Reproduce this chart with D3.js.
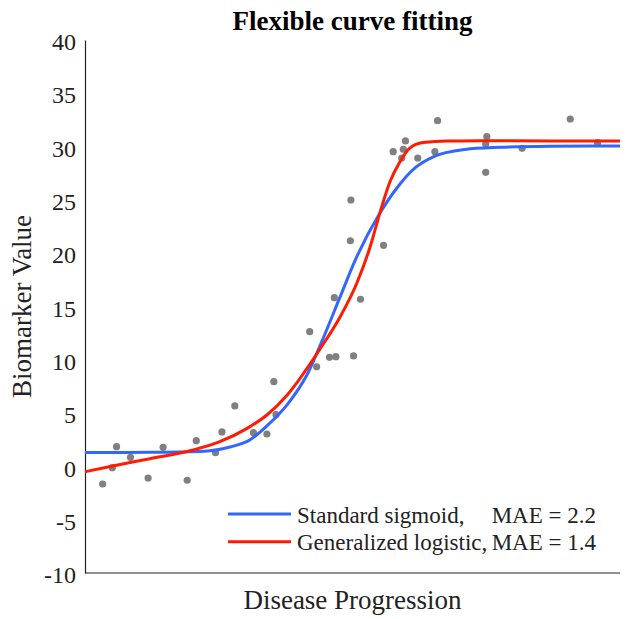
<!DOCTYPE html>
<html>
<head>
<meta charset="utf-8">
<script src="https://cdn.jsdelivr.net/npm/d3@7"></script>
<style>
  body { margin: 0; background: #fff; }
  text { font-family: "Liberation Serif", "Times New Roman", serif; fill: #222; }
</style>
</head>
<body>
<div id="main"></div>
<script>
// observed data (disease progression, biomarker value)
const obsX = [3.3, 5.1, 5.9, 8.5, 11.8, 14.6, 19.1, 20.8, 24.4, 25.6, 28.0, 31.5, 34.0, 35.7, 35.3,
  43.3, 42.0, 45.7, 46.9, 50.2, 46.6, 51.5, 49.6, 49.7, 55.8, 57.6, 59.2, 59.5, 59.9, 62.2,
  65.4, 65.9, 75.1, 74.9, 74.9, 81.7, 90.7, 95.8];
const obsY = [-1.65, -0.12, 1.85, 0.85, -1.09, 1.79, -1.30, 2.41, 1.29, 3.23, 5.67, 3.16, 3.04, 4.85, 7.95,
  9.35, 12.64, 10.23, 10.29, 10.36, 15.83, 15.68, 21.17, 24.99, 20.74, 29.52, 28.93, 29.75, 30.53, 28.93,
  29.52, 32.43, 30.93, 30.24, 27.59, 29.84, 32.59, 30.37];

// fitted curves
const sigX = [0, 12.1, 21.5, 27.1, 30.8, 34.0, 37.8, 41.5, 44.5, 47.7, 50.8, 55.1, 58.3, 61.9, 65.0, 71.0, 77.6, 86.9, 100];
const sigY = [1.30, 1.32, 1.40, 1.82, 2.48, 3.80, 5.80, 8.60, 12.00, 15.92, 19.67, 23.74, 26.12, 28.09, 29.02, 29.73, 29.93, 30.03, 30.06];
const genX = [0, 5.2, 11.6, 20.2, 25.2, 30.3, 34.0, 37.8, 43.9, 47.7, 50.8, 53.3, 55.1, 57.0, 58.9, 60.7, 63.2, 67.7, 73.8, 100];
const genY = [-0.50, 0.04, 0.67, 1.54, 2.32, 3.57, 4.82, 6.70, 11.00, 14.04, 17.18, 20.61, 23.74, 26.70, 28.60, 29.85, 30.38, 30.53, 30.54, 30.53];

const yTicks = [-10, -5, 0, 5, 10, 15, 20, 25, 30, 35, 40];
const series = [
  { name: "Standard sigmoid,", mae: "MAE = 2.2", color: "#3366ff", xs: sigX, ys: sigY },
  { name: "Generalized logistic,", mae: "MAE = 1.4", color: "#ff1a00", xs: genX, ys: genY }
];

const width = 638, height = 619;
const margin = { top: 40, right: 18, bottom: 46, left: 85 };

const svg = d3.select('#main').append('svg')
  .attr('width', width)
  .attr('height', height);

const x = d3.scaleLinear().domain([0, 100]).range([margin.left, width - margin.right]);
const y = d3.scaleLinear().domain([-10, 40]).range([height - margin.bottom, margin.top]);

// axes
const yAxis = svg.append('g')
  .attr('transform', `translate(${margin.left},0)`)
  .call(d3.axisLeft(y).tickValues(yTicks).tickSize(0).tickPadding(9).tickFormat(d => String(d)));
yAxis.select('.domain').attr('stroke', '#222').attr('stroke-width', 1.2);
yAxis.selectAll('text')
  .attr('font-size', 24)
  .attr('font-family', '"Liberation Serif", serif')
  .attr('fill', '#222')
  .attr('dy', '0.4em');

svg.append('line')
  .attr('x1', x(0)).attr('x2', x(100))
  .attr('y1', y(-10)).attr('y2', y(-10))
  .attr('stroke', '#222').attr('stroke-width', 1.2);

// points
svg.append('g').selectAll('circle')
  .data(obsX.map((d, i) => [d, obsY[i]]))
  .enter()
  .append('circle')
  .attr('cx', d => x(d[0]))
  .attr('cy', d => y(d[1]))
  .attr('r', 3.6)
  .attr('fill', '#808080');

// curves
const line = d3.line()
  .x(d => x(d[0]))
  .y(d => y(d[1]))
  .curve(d3.curveMonotoneX);

series.forEach(s => {
  svg.append('path')
    .datum(s.xs.map((d, i) => [d, s.ys[i]]))
    .attr('d', line)
    .attr('fill', 'none')
    .attr('stroke', s.color)
    .attr('stroke-width', 3);
});

// legend
const legend = svg.append('g');
series.forEach((s, i) => {
  const ly = 514 + i * 27.7;
  legend.append('line')
    .attr('x1', 228).attr('x2', 291)
    .attr('y1', ly).attr('y2', ly)
    .attr('stroke', s.color).attr('stroke-width', 3);
  legend.append('text')
    .attr('x', 297).attr('y', ly + 8.5)
    .attr('font-size', 23)
    .text(s.name);
  legend.append('text')
    .attr('x', 596).attr('y', ly + 8.5)
    .attr('font-size', 23)
    .attr('text-anchor', 'end')
    .text(s.mae);
});

// title and labels
svg.append('text')
  .attr('x', (margin.left + width - margin.right) / 2)
  .attr('y', 30)
  .attr('text-anchor', 'middle')
  .attr('font-size', 27)
  .attr('font-weight', 'bold')
  .style('fill', '#000')
  .text('Flexible curve fitting');

svg.append('text')
  .attr('x', (margin.left + width - margin.right) / 2)
  .attr('y', 609)
  .attr('text-anchor', 'middle')
  .attr('font-size', 27)
  .text('Disease Progression');

svg.append('text')
  .attr('transform', `translate(31,${(y(40) + y(-10)) / 2}) rotate(-90)`)
  .attr('text-anchor', 'middle')
  .attr('font-size', 27)
  .text('Biomarker Value');
</script>
</body>
</html>
